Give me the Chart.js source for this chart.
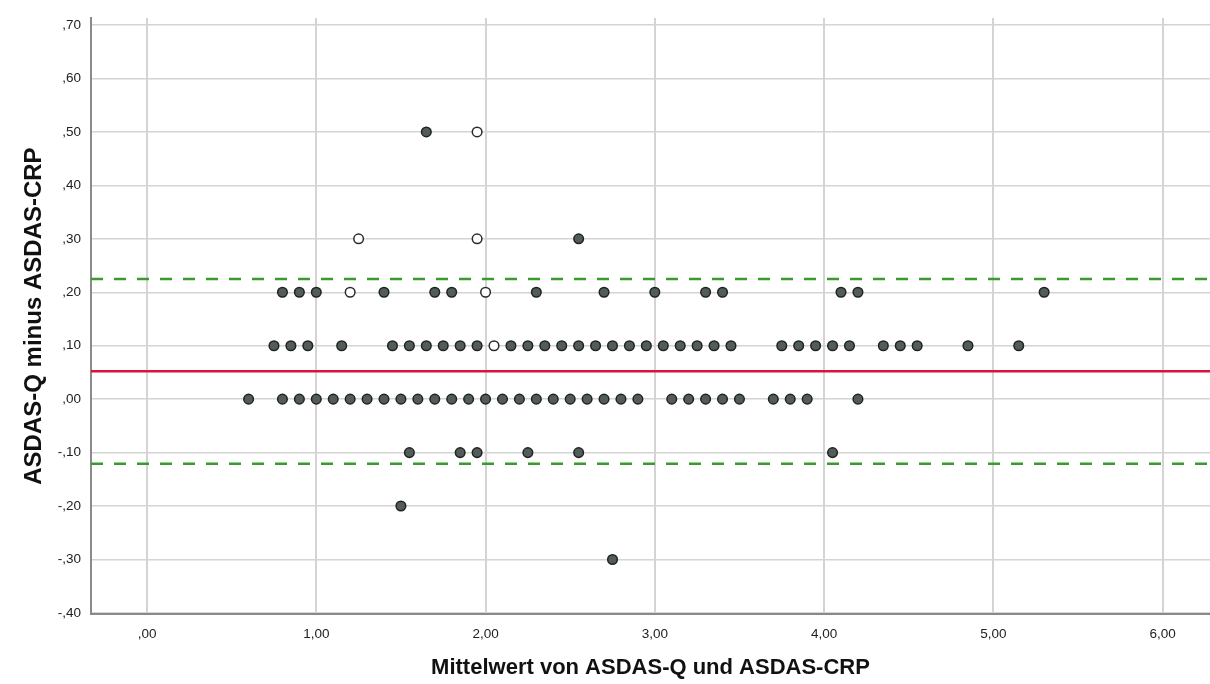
<!DOCTYPE html>
<html>
<head>
<meta charset="utf-8">
<script src="https://cdn.jsdelivr.net/npm/chart.js@4"></script>
<style>
  html, body { margin: 0; padding: 0; background: #fff; }
  #wrap { width: 1210px; height: 684px; }
</style>
</head>
<body>
<div id="wrap"><canvas id="graph1" width="1210" height="684"></canvas></div>
<script>
// mean of the two scores (x) for each difference level (y), filled markers
var diffP050 = [1.65];
var diffP030 = [2.55];
var diffP020 = [0.80, 0.90, 1.00, 1.40, 1.70, 1.80, 2.30, 2.70, 3.00, 3.30, 3.40, 4.10, 4.20, 5.30];
var diffP010 = [0.75, 0.85, 0.95, 1.15, 1.45, 1.55, 1.65, 1.75, 1.85, 1.95, 2.15, 2.25, 2.35, 2.45,
  2.55, 2.65, 2.75, 2.85, 2.95, 3.05, 3.15, 3.25, 3.35, 3.45, 3.75, 3.85, 3.95, 4.05, 4.15,
  4.35, 4.45, 4.55, 4.85, 5.15];
var diff000 = [0.60, 0.80, 0.90, 1.00, 1.10, 1.20, 1.30, 1.40, 1.50, 1.60, 1.70, 1.80, 1.90, 2.00,
  2.10, 2.20, 2.30, 2.40, 2.50, 2.60, 2.70, 2.80, 2.90, 3.10, 3.20, 3.30, 3.40, 3.50,
  3.70, 3.80, 3.90, 4.20];
var diffM010 = [1.55, 1.85, 1.95, 2.25, 2.55, 4.05];
var diffM020 = [1.50];
var diffM030 = [2.75];

// open markers
var openP050 = [1.95];
var openP030 = [1.25, 1.95];
var openP020 = [1.20, 2.00];
var openP010 = [2.05];

// mean difference and limits of agreement
var meanDiff = 0.052;
var upperLoA = 0.225;
var lowerLoA = -0.121;

var xTicks = [0, 1, 2, 3, 4, 5, 6];
var yTicks = [0.7, 0.6, 0.5, 0.4, 0.3, 0.2, 0.1, 0, -0.1, -0.2, -0.3, -0.4];
var xMin = -0.331, xMax = 6.28;
var yMin = -0.402, yMax = 0.713;

function toPoints(xs, y) {
  return xs.map(function (x) { return { x: x, y: y }; });
}

var filled = [].concat(
  toPoints(diffP050, 0.5), toPoints(diffP030, 0.3), toPoints(diffP020, 0.2),
  toPoints(diffP010, 0.1), toPoints(diff000, 0), toPoints(diffM010, -0.1),
  toPoints(diffM020, -0.2), toPoints(diffM030, -0.3)
);
var open = [].concat(
  toPoints(openP050, 0.5), toPoints(openP030, 0.3), toPoints(openP020, 0.2), toPoints(openP010, 0.1)
);

// german style labels, leading zero dropped: ,70  -,10  1,00
function spssLabel(v, digits) {
  var s = Math.abs(v).toFixed(digits).replace('.', ',');
  if (s.charAt(0) === '0') s = s.substring(1);
  return (v < -1e-9 ? '-' : '') + s;
}

function hline(y, color, dash, order) {
  return {
    type: 'line',
    data: [{ x: xMin, y: y }, { x: xMax, y: y }],
    borderColor: color,
    borderWidth: 2.5,
    borderDash: dash,
    pointRadius: 0,
    fill: false,
    order: order
  };
}

function makeChart() {
  var canvas = document.getElementById('graph1');
  var ctx = canvas.getContext('2d');

  var chart = new Chart(ctx, {
    type: 'scatter',
    data: {
      datasets: [
        {
          data: filled,
          backgroundColor: '#535c58',
          borderColor: '#1e2420',
          borderWidth: 1.5,
          pointRadius: 4.8,
          order: 1
        },
        {
          data: open,
          backgroundColor: '#ffffff',
          borderColor: '#2a2a2a',
          borderWidth: 1.5,
          pointRadius: 4.8,
          order: 0
        },
        hline(meanDiff, '#d8143c', [], 3),
        hline(upperLoA, '#3a9a2e', [12, 11], 2),
        hline(lowerLoA, '#3a9a2e', [12, 11], 2)
      ]
    },
    options: {
      responsive: false,
      animation: false,
      layout: { autoPadding: false, padding: { top: 15, right: 0, left: 0, bottom: 0 } },
      plugins: {
        legend: { display: false },
        tooltip: { enabled: false }
      },
      scales: {
        x: {
          type: 'linear',
          min: xMin,
          max: xMax,
          afterBuildTicks: function (scale) {
            scale.ticks = xTicks.map(function (v) { return { value: v }; });
          },
          afterFit: function (scale) { scale.height = 70; },
          grid: { color: '#d4d4d4', lineWidth: 2, drawTicks: false },
          border: { color: '#8a8a8a', width: 2 },
          ticks: {
            padding: 12,
            color: '#222',
            font: { family: 'Liberation Sans', size: 13.5 },
            callback: function (v) { return spssLabel(v, 2); }
          },
          title: {
            display: true,
            text: 'Mittelwert von ASDAS-Q und ASDAS-CRP',
            color: '#111',
            font: { family: 'Liberation Sans', size: 22, weight: 'bold' },
            padding: { top: 0, bottom: 3 }
          }
        },
        y: {
          type: 'linear',
          min: yMin,
          max: yMax,
          afterBuildTicks: function (scale) {
            scale.ticks = yTicks.map(function (v) { return { value: v }; });
          },
          afterFit: function (scale) { scale.width = 91; },
          grid: { color: '#d4d4d4', lineWidth: 1.5, drawTicks: false },
          border: { color: '#8a8a8a', width: 2 },
          ticks: {
            padding: 10,
            color: '#222',
            font: { family: 'Liberation Sans', size: 13.5 },
            callback: function (v) { return spssLabel(v, 2); }
          },
          title: {
            display: true,
            text: 'ASDAS-Q minus ASDAS-CRP',
            color: '#111',
            font: { family: 'Liberation Sans', size: 24, weight: 'bold' },
            padding: { top: 20, bottom: 0 }
          }
        }
      }
    }
  });
}

makeChart();
</script>
</body>
</html>
